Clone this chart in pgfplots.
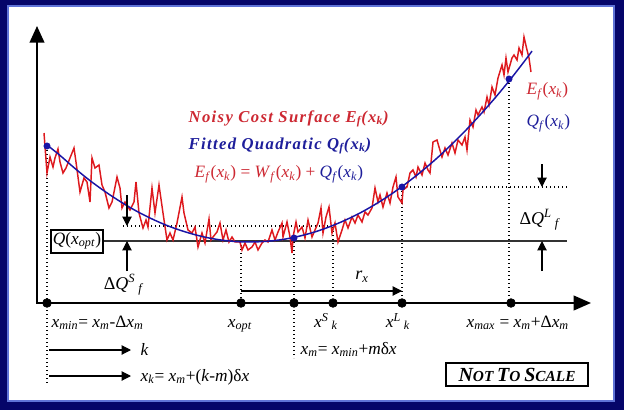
\documentclass[border=0pt]{standalone}
\usepackage{fontspec}
\setmainfont{Liberation Serif}
\usepackage{pgfplots}
\pgfplotsset{compat=1.18}
\usetikzlibrary{arrows.meta}
\definecolor{noisered}{RGB}{222,25,30}
\definecolor{txtred}{RGB}{205,40,50}
\definecolor{fitblue}{RGB}{25,20,165}
\definecolor{txtblue}{RGB}{30,30,155}
\definecolor{frameblue}{RGB}{5,5,105}
\definecolor{framelight}{RGB}{95,115,215}
\newcommand{\iv}[1]{\textit{#1}}
\newcommand{\sub}[1]{\textsubscript{\textit{#1}}}
\newcommand{\super}[1]{\textsuperscript{\textit{#1}}}
\begin{document}
\begin{tikzpicture}
\begin{axis}[
  width=468pt, height=307.5pt, scale only axis,
  xmin=0, xmax=624, ymin=0, ymax=410, y dir=reverse,
  hide axis, clip=false,
  every node/.style={font=\fontsize{11}{12}\selectfont},
]
% frame
\fill[frameblue] (axis cs:0,0) rectangle (axis cs:624,410);
\fill[white] (axis cs:8,6) rectangle (axis cs:614,401);
\draw[framelight, line width=1.4pt] (axis cs:8,6) rectangle (axis cs:614,401);

% dotted guides
\begin{scope}[line width=1pt, dash pattern=on 1pt off 2pt]
\draw (axis cs:47,146) -- (axis cs:47,385);
\draw (axis cs:241,245) -- (axis cs:241,303);
\draw (axis cs:294,238) -- (axis cs:294,358);
\draw (axis cs:333,227) -- (axis cs:333,303);
\draw (axis cs:402,187) -- (axis cs:402,303);
\draw (axis cs:509,79) -- (axis cs:509,303);
\draw (axis cs:123,226) -- (axis cs:334,226);
\draw (axis cs:402,187) -- (axis cs:567,187);
\end{scope}
\draw[line width=0.8pt, black!80] (axis cs:103,241) -- (axis cs:567,241);

% axes
\draw[line width=1.5pt, -{Triangle[width=11pt,length=12.5pt]}] (axis cs:37,303) -- (axis cs:37,26);
\draw[line width=1.5pt, -{Triangle[width=11pt,length=13pt]}] (axis cs:36,303) -- (axis cs:591,303);

% noisy curve
\addplot[noisered, line width=1.1pt] coordinates {
(44,133)(47,173)(50,157)(53,167)(55,158)(58,149)(60,162)(63,173)(66,168)(70,158)(74,148)(76,162)(80,192)(84,178)(87,182)(90,202)(92,158)(95,168)(99,165)(102,185)(105,192)(109,208)(112,202)(117,177)(120,188)(122,208)(125,202)(130,210)(134,202)(136,182)(139,213)(143,228)(146,220)(148,227)(152,188)(155,213)(159,185)(163,213)(167,240)(170,233)(173,240)(177,223)(182,197)(184,213)(188,230)(192,233)(195,227)(198,247)(202,233)(205,243)(209,219)(211,240)(213,237)(217,232)(220,223)(223,240)(226,230)(229,242)(232,237)(235,242)(240,242)(242,250)(245,243)(248,250)(252,247)(255,242)(258,250)(262,243)(265,240)(268,242)(272,230)(275,240)(278,232)(282,223)(283,237)(287,222)(290,237)(292,253)(293,237)(296,222)(298,232)(302,227)(305,238)(308,220)(312,237)(315,230)(318,223)(321,208)(323,233)(326,217)(329,207)(332,233)(335,223)(338,242)(342,230)(345,220)(348,228)(352,217)(355,223)(358,215)(362,222)(365,212)(368,215)(372,208)(375,188)(378,202)(380,195)(383,207)(387,193)(390,203)(393,187)(396,177)(398,197)(402,203)(403,190)(407,187)(410,173)(413,170)(416,177)(418,167)(422,175)(425,163)(428,170)(430,173)(433,142)(437,140)(439,147)(442,157)(445,148)(448,155)(452,143)(455,153)(458,140)(462,145)(465,137)(467,150)(470,120)(473,127)(476,110)(478,115)(482,107)(484,112)(487,97)(489,105)(492,87)(495,95)(498,78)(502,65)(504,75)(506,58)(508,72)(512,58)(514,55)(517,60)(519,48)(522,55)(524,37)(527,50)(529,58)(531,72)
};
% fitted quadratic
\addplot[fitblue, line width=1.1pt, smooth] coordinates {
(47,145)(60,155.4)(75,168.5)(90,180.6)(105,191.5)(120,201.4)(135,210.3)(150,218)(165,224.7)(180,230.2)(195,234.7)(210,238.2)(225,240.5)(240,241.8)(255,241.9)(270,241)(285,239.1)(300,236)(315,231.9)(330,226.6)(345,220.3)(360,213)(375,204.5)(390,195)(405,184.3)(420,172.6)(435,159.9)(450,146)(465,131.1)(480,115)(495,98)(510,79.8)(525,60.5)(532,51.1)
};
\addplot[only marks, mark=*, fitblue, mark size=2.4pt] coordinates {(47,146)(294,238)(402,187)(509,79)};
\addplot[only marks, mark=*, black, mark size=3.3pt] coordinates {(47,303)(241,303)(294,303)(333,303)(402,303)(511,303)};

% Delta Q arrows
\begin{scope}[line width=0.8pt, -{Triangle[width=7pt,length=7pt]}]
\draw (axis cs:127,195) -- (axis cs:127,226);
\draw (axis cs:127,271) -- (axis cs:127,241);
\draw (axis cs:542,164) -- (axis cs:542,187);
\draw (axis cs:542,271) -- (axis cs:542,241);
\draw (axis cs:241,291) -- (axis cs:402,291);
\draw (axis cs:49,350) -- (axis cs:131,350);
\draw (axis cs:49,376) -- (axis cs:131,376);
\end{scope}

% boxes
\draw[line width=0.8pt, fill=white] (axis cs:51,230) rectangle (axis cs:103,253);
\node[font=\fontsize{13}{14}\selectfont] at (axis cs:77,241) {\iv{Q}(\iv{x}\sub{opt})};
\draw[line width=0.8pt] (axis cs:446,363) rectangle (axis cs:588,386);
\node[font=\bfseries\itshape] at (axis cs:517,374.5) {\fontsize{15}{16}\selectfont N\fontsize{11.5}{12}\selectfont OT\ \fontsize{15}{16}\selectfont T\fontsize{11.5}{12}\selectfont O\ \fontsize{15}{16}\selectfont S\fontsize{11.5}{12}\selectfont CALE};

% titles
\node[anchor=west, txtred, font=\fontsize{12.5}{14}\selectfont\bfseries\itshape\addfontfeatures{LetterSpace=8}] at (axis cs:184,119) {Noisy Cost Surface \iv{E}\sub{f}(\iv{x}\sub{k})};
\node[anchor=west, txtblue, font=\fontsize{12.5}{14}\selectfont\bfseries\itshape\addfontfeatures{LetterSpace=8}] at (axis cs:184,146) {Fitted Quadratic \iv{Q}\sub{f}(\iv{x}\sub{k})};
\node[anchor=west, txtred, font=\fontsize{13}{14}\selectfont] at (axis cs:190,174) {\iv{E}\sub{f}(\iv{x}\sub{k}) = \iv{W}\sub{f}(\iv{x}\sub{k}) + \textcolor{txtblue}{\iv{Q}\sub{f}(\iv{x}\sub{k})}};
\node[anchor=west, txtred, font=\fontsize{13}{14}\selectfont] at (axis cs:522,91) {\iv{E}\sub{f}(\iv{x}\sub{k})};
\node[anchor=west, txtblue, font=\fontsize{13}{14}\selectfont] at (axis cs:522,123) {\iv{Q}\sub{f}(\iv{x}\sub{k})};

% delta labels
\node[font=\fontsize{13.5}{14}\selectfont] at (axis cs:124,285) {Δ\iv{Q}\super{S}\,\sub{f}};
\node[font=\fontsize{13.5}{14}\selectfont] at (axis cs:540,220) {Δ\iv{Q}\super{L}\,\sub{f}};
\node[font=\fontsize{13.5}{14}\selectfont] at (axis cs:362,277) {\iv{r}\sub{x}};

% axis labels
\node[anchor=base west, font=\fontsize{13}{14}\selectfont] at (axis cs:47,327) {\iv{x}\sub{min}= \iv{x}\sub{m}-Δ\iv{x}\sub{m}};
\node[anchor=base, font=\fontsize{13}{14}\selectfont] at (axis cs:240,327) {\iv{x}\sub{opt}};
\node[anchor=base, font=\fontsize{13}{14}\selectfont] at (axis cs:326,327) {\iv{x}\super{S}\,\sub{k}};
\node[anchor=base, font=\fontsize{13}{14}\selectfont] at (axis cs:398,327) {\iv{x}\super{L}\,\sub{k}};
\node[anchor=base west, font=\fontsize{13}{14}\selectfont] at (axis cs:462,327) {\iv{x}\sub{max} = \iv{x}\sub{m}+Δ\iv{x}\sub{m}};
\node[anchor=base west, font=\fontsize{13}{14}\selectfont] at (axis cs:296,354) {\iv{x}\sub{m}= \iv{x}\sub{min}+\iv{m}δ\iv{x}};
\node[anchor=base west, font=\fontsize{13}{14}\selectfont] at (axis cs:136,355) {\iv{k}};
\node[anchor=base west, font=\fontsize{13}{14}\selectfont] at (axis cs:136,381) {\iv{x}\sub{k}= \iv{x}\sub{m}+(\iv{k}-\iv{m})δ\iv{x}};
\end{axis}
\end{tikzpicture}
\end{document}
